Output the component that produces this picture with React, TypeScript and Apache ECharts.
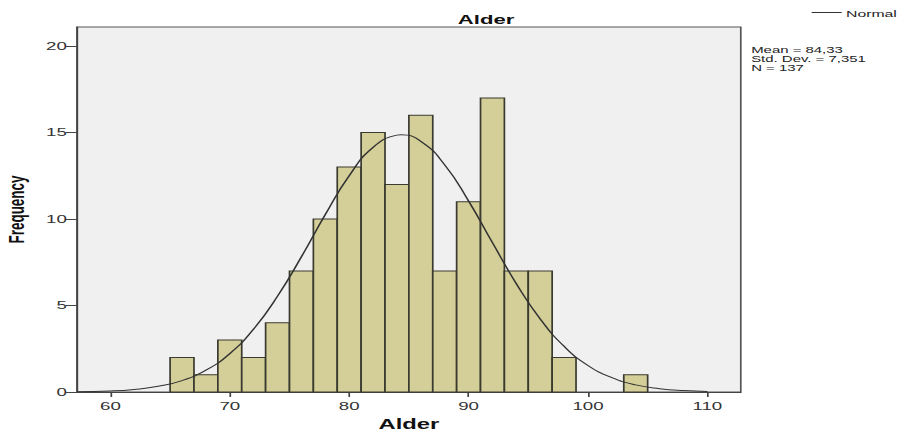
import React, { useEffect, useRef } from "react";
import * as echarts from "echarts";

// Histogram bins (left edge, right edge) and their frequencies
const BIN_LEFT = [65, 67, 69, 71, 73, 75, 77, 79, 81, 83, 85, 87, 89, 91, 93, 95, 97, 99, 101, 103];
const BIN_RIGHT = [67, 69, 71, 73, 75, 77, 79, 81, 83, 85, 87, 89, 91, 93, 95, 97, 99, 101, 103, 105];
const COUNTS = [2, 1, 3, 2, 4, 7, 10, 13, 15, 12, 16, 7, 11, 17, 7, 7, 2, 0, 0, 1];

// Normal curve
const CURVE_X = [57.2, 60, 62, 64, 66, 68, 70, 72, 74, 76, 78, 80, 82, 84, 84.33, 86, 88, 90, 92, 94, 96, 98, 100, 102, 104, 106, 108, 110];
const CURVE_Y = [0.02, 0.06, 0.15, 0.33, 0.66, 1.26, 2.22, 3.64, 5.54, 7.82, 10.26, 12.5, 14.14, 14.85, 14.87, 14.49, 13.13, 11.04, 8.63, 6.26, 4.22, 2.64, 1.53, 0.83, 0.41, 0.19, 0.08, 0.03];

const X_TICKS = [60, 70, 80, 90, 100, 110];
const Y_TICKS = [0, 5, 10, 15, 20];
const STATS = ["Mean = 84,33", "Std. Dev. = 7,351", "N = 137"];
const LEGEND_LABEL = "Normal";

const W = 529;
const H = 434;
const SX = 899 / W;

export default function App() {
  const ref = useRef<HTMLDivElement>(null);
  useEffect(() => {
    if (!ref.current) return;
    const chart = echarts.init(ref.current, undefined, { renderer: "svg" });
    const bins = BIN_LEFT.map((l, i) => [l, BIN_RIGHT[i], COUNTS[i]]).filter((d) => d[2] > 0);
    const font = "Arial, 'Liberation Sans', sans-serif";
    chart.setOption({
      animation: false,
      backgroundColor: "#ffffff",
      textStyle: { fontFamily: font },
      title: {
        text: "Alder",
        left: 281,
        top: 8,
        textAlign: "center",
        textStyle: { fontSize: 13, fontWeight: "bold", color: "#111", fontFamily: font },
      },
      grid: {
        left: 45.3,
        right: 93.1,
        top: 27,
        bottom: 42,
        show: true,
        backgroundColor: "#f0f0f0",
        borderColor: "#555",
        borderWidth: 1,
        containLabel: false,
        outerBoundsMode: "none",
      },
      xAxis: {
        type: "value",
        min: 57.2,
        max: 112.8,
        name: "Alder",
        nameLocation: "middle",
        nameGap: 25,
        nameTextStyle: { fontSize: 14, fontWeight: "bold", color: "#111", fontFamily: font },
        axisLine: { show: true, onZero: false, lineStyle: { color: "#444", width: 1 } },
        axisTick: { show: true, length: 5, customValues: X_TICKS, lineStyle: { color: "#444" } },
        axisLabel: { customValues: X_TICKS, fontSize: 11, color: "#333", margin: 8.5 },
        splitLine: { show: false },
      },
      yAxis: {
        type: "value",
        min: 0,
        max: 21.1,
        name: "Frequency",
        nameLocation: "middle",
        nameGap: 28,
        nameTextStyle: { fontSize: 13.5, fontWeight: "bold", color: "#111", fontFamily: font },
        axisLine: { show: true, onZero: false, lineStyle: { color: "#444", width: 1 } },
        axisTick: { show: true, length: 6.5, customValues: Y_TICKS, lineStyle: { color: "#444" } },
        axisLabel: { customValues: Y_TICKS, fontSize: 11, color: "#333", margin: 6 },
        splitLine: { show: false },
      },
      series: [
        {
          type: "custom",
          name: "Alder",
          data: bins,
          encode: { x: [0, 1], y: 2 },
          renderItem: (_params: any, api: any) => {
            const p0 = api.coord([api.value(0), api.value(2)]);
            const p1 = api.coord([api.value(1), 0]);
            return {
              type: "rect",
              shape: { x: p0[0], y: p0[1], width: p1[0] - p0[0], height: p1[1] - p0[1] },
              style: { fill: "#d4cf98", stroke: "#3a3a30", lineWidth: 1 },
            };
          },
          z: 2,
        },
        {
          type: "line",
          name: LEGEND_LABEL,
          data: CURVE_X.map((x, i) => [x, CURVE_Y[i]]),
          smooth: true,
          symbol: "none",
          lineStyle: { color: "#333", width: 1 },
          itemStyle: { color: "#333" },
          z: 3,
        },
      ],
      graphic: [
        {
          type: "line",
          shape: { x1: 477.6, y1: 12.5, x2: 495.3, y2: 12.5 },
          style: { stroke: "#333", lineWidth: 1 },
        },
        {
          type: "text",
          x: 497.8,
          y: 13.5,
          style: {
            text: LEGEND_LABEL,
            font: `9.3px ${font}`,
            fill: "#222",
            textVerticalAlign: "middle",
            textAlign: "left",
          },
        },
        ...STATS.map((t, i) => ({
          type: "text",
          x: 442,
          y: 50 + i * 9,
          style: {
            text: t,
            font: `8.8px ${font}`,
            fill: "#222",
            textVerticalAlign: "middle",
            textAlign: "left",
          },
        })),
      ],
    });
    return () => chart.dispose();
  }, []);
  return (
    <div
      ref={ref}
      style={{
        position: "absolute",
        left: 0,
        top: 0,
        width: W,
        height: H,
        transform: `scaleX(${SX})`,
        transformOrigin: "0 0",
      }}
    />
  );
}
